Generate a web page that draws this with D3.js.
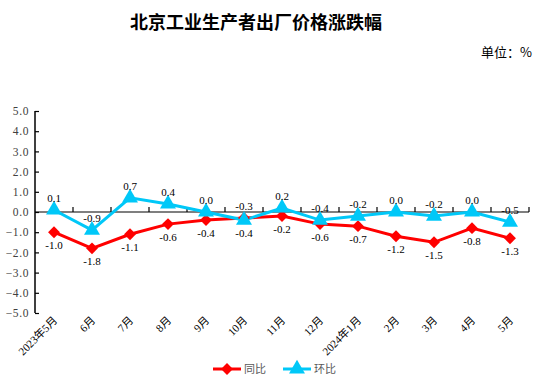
<!DOCTYPE html>
<html><head><meta charset="utf-8">
<script src="https://cdn.jsdelivr.net/npm/d3@7"></script>
<style>
body{margin:0;background:#fff;}
svg{display:block;}
</style></head>
<body><svg id="c" width="542" height="382"></svg>
<script>
const categories = ["2023年5月","6月","7月","8月","9月","10月","11月","12月","2024年1月","2月","3月","4月","5月"];
const yoy = [-1.0,-1.8,-1.1,-0.6,-0.4,-0.3,-0.2,-0.6,-0.7,-1.2,-1.5,-0.8,-1.3];
const mom = [0.1,-0.9,0.7,0.4,0.0,-0.4,0.2,-0.4,-0.2,0.0,-0.2,0.0,-0.5];
const yTicks = [5,4,3,2,1,0,-1,-2,-3,-4,-5];
const seriesNames = ["同比","环比"];
// label side: 1 = below, -1 = above
const yoyLabelSide = [1,1,1,1,1,-1,1,1,1,1,1,1,1];
const momLabelSide = [-1,-1,-1,-1,-1,1,-1,-1,-1,-1,-1,-1,-1];

const svg = d3.select("#c");
const serif = "'Times New Roman','Liberation Serif','Noto Sans CJK SC',serif";
const cjk = "'Noto Sans CJK SC','Noto Sans',sans-serif";
const RED = "#FF0000", BLUE = "#00C8F8";

const x = d3.scaleBand().domain(categories).range([35, 529]);
const y = d3.scaleLinear().domain([-5, 5]).range([313, 111]);
const cx = d => x(d) + x.bandwidth() / 2;

// title
svg.append("text").attr("x", 256).attr("y", 29).attr("text-anchor", "middle")
  .attr("font-family", cjk).attr("font-weight", "bold").attr("font-size", 18)
  .attr("fill", "#000").text("北京工业生产者出厂价格涨跌幅");
svg.append("text").attr("x", 532).attr("y", 57).attr("text-anchor", "end")
  .attr("font-family", cjk).attr("font-size", 13).attr("fill", "#000").text("单位：%");

// y axis
const yAxis = d3.axisRight(y).tickValues(yTicks).tickSize(4).tickFormat(d3.format(".1f"));
const gy = svg.append("g").attr("transform", "translate(35,0)").call(yAxis);
gy.select(".domain").attr("stroke", "#000").attr("stroke-width", 1.5).attr("d", `M0,${y(5)}V${y(-5)}`);
gy.selectAll(".tick line").attr("stroke", "#000").attr("stroke-width", 1.2);
gy.selectAll(".tick text").attr("x", -6).attr("text-anchor", "end")
  .attr("font-family", serif).attr("font-size", 11.5).attr("letter-spacing", 0.6)
  .attr("fill", "#404040");

// x axis at zero
const boundaries = categories.map(c => x(c)).concat([x.range()[1]]);
const gx = svg.append("g");
gx.append("line").attr("x1", 35).attr("x2", 529).attr("y1", y(0)).attr("y2", y(0))
  .attr("stroke", "#000").attr("stroke-width", 1.2);
gx.selectAll("line.tk").data(boundaries.slice(1)).join("line").attr("class", "tk")
  .attr("x1", d => d).attr("x2", d => d).attr("y1", y(0)).attr("y2", y(0) - 5)
  .attr("stroke", "#000").attr("stroke-width", 1.2);

// x labels
svg.append("g").selectAll("text").data(categories).join("text")
  .attr("transform", d => `translate(${cx(d) + 4},${321}) rotate(-45)`)
  .attr("text-anchor", "end").attr("font-family", serif).attr("font-size", 11)
  .attr("fill", "#000").text(d => d);

// lines
const line = d3.line().x((d, i) => cx(categories[i])).y(d => y(d));
svg.append("path").datum(yoy).attr("d", line).attr("fill", "none").attr("stroke", RED).attr("stroke-width", 3);
svg.append("path").datum(mom).attr("d", line).attr("fill", "none").attr("stroke", BLUE).attr("stroke-width", 3);

const diamond = d3.symbol().type(d3.symbolDiamond2).size(90);
const tri = d3.symbol().type(d3.symbolTriangle).size(110);

svg.append("g").selectAll("path").data(yoy).join("path")
  .attr("transform", (d, i) => `translate(${cx(categories[i])},${y(d)})`)
  .attr("d", diamond).attr("fill", RED);
svg.append("g").selectAll("path").data(mom).join("path")
  .attr("transform", (d, i) => `translate(${cx(categories[i])},${y(d)})`)
  .attr("d", tri).attr("fill", BLUE);

// data labels
const fmt = d3.format(".1f");
svg.append("g").selectAll("text").data(yoy).join("text")
  .attr("x", (d, i) => cx(categories[i]))
  .attr("y", (d, i) => y(d) + (yoyLabelSide[i] > 0 ? 17 : -8))
  .attr("text-anchor", "middle").attr("font-family", serif).attr("font-size", 11)
  .attr("fill", "#000").text(d => fmt(d).replace("−", "-"));
svg.append("g").selectAll("text").data(mom).join("text")
  .attr("x", (d, i) => cx(categories[i]))
  .attr("y", (d, i) => y(d) + (momLabelSide[i] > 0 ? 17 : -8))
  .attr("text-anchor", "middle").attr("font-family", serif).attr("font-size", 11)
  .attr("fill", "#000").text(d => fmt(d).replace("−", "-"));

// legend
const lg = svg.append("g");
const legendItems = [{name: seriesNames[0], color: RED, sym: diamond, x0: 213},
                     {name: seriesNames[1], color: BLUE, sym: tri, x0: 283}];
legendItems.forEach(it => {
  lg.append("line").attr("x1", it.x0).attr("x2", it.x0 + 28).attr("y1", 369).attr("y2", 369)
    .attr("stroke", it.color).attr("stroke-width", 3);
  lg.append("path").attr("transform", `translate(${it.x0 + 14},369)`).attr("d", it.sym).attr("fill", it.color);
  lg.append("text").attr("x", it.x0 + 31).attr("y", 373).attr("font-family", cjk).attr("font-size", 11)
    .attr("fill", "#595959").text(it.name);
});
</script></body></html>
